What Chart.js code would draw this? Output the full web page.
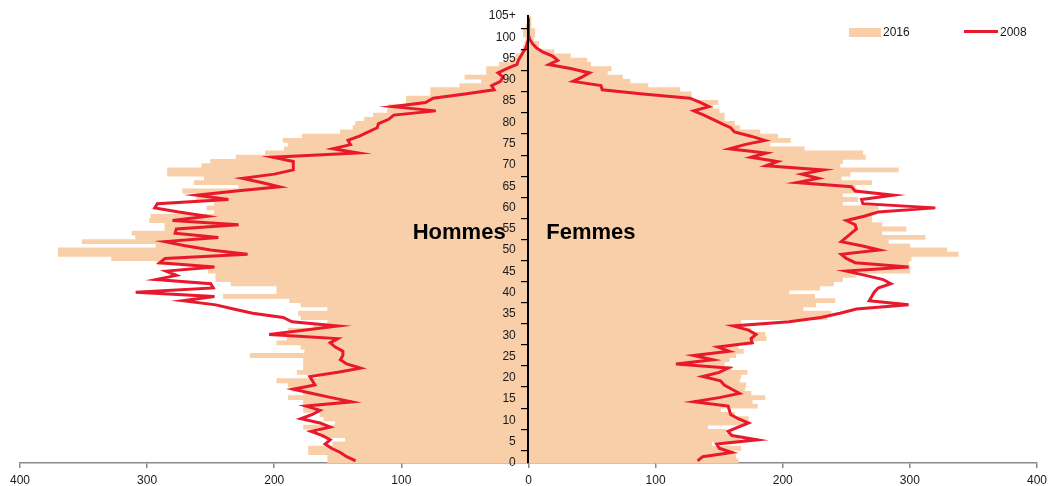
<!DOCTYPE html>
<html>
<head>
<meta charset="utf-8">
<script src="https://cdn.jsdelivr.net/npm/chart.js@4.4.0/dist/chart.umd.min.js"></script>
<style>
  html, body { margin: 0; padding: 0; background: #fff; overflow: hidden; }
  canvas { display: block; }
</style>
</head>
<body>
<canvas id="pyramide" width="1052" height="486"></canvas>
<script>
// ages 0 a 105+ (une classe par année)
const ages = Array.from({ length: 105 }, (_, i) => String(i)).concat(["105+"]);

// effectifs 2016 (barres)
const hommes2016 = [
  158, 158, 173, 173, 154, 144, 163, 164, 177, 152,
  161, 164, 177, 177, 177, 189, 177, 186, 189, 198,
  165, 182, 177, 177, 177, 219, 176, 179, 198, 190,
  190, 189, 169, 158, 179, 181, 158, 179, 188, 240,
  198, 198, 234, 246, 246, 252, 253, 292, 328, 370,
  370, 293, 351, 309, 312, 286, 286, 298, 297, 247,
  253, 247, 261, 261, 272, 228, 263, 255, 284, 284,
  257, 250, 230, 207, 192, 189, 193, 178, 148, 138,
  136, 129, 122, 111, 110, 96, 96, 77, 77, 54,
  37, 50, 33, 33, 23, 13, 10, 6, 4, 3,
  2, 4, 4, 2, 1, 1
];
const femmes2016 = [
  165, 163, 161, 167, 144, 166, 159, 155, 141, 172,
  173, 162, 151, 180, 176, 186, 175, 170, 171, 166,
  167, 172, 160, 154, 158, 163, 169, 165, 176, 187,
  186, 175, 168, 167, 235, 238, 216, 226, 241, 225,
  205, 229, 240, 247, 257, 300, 300, 299, 301, 338,
  329, 300, 283, 312, 278, 297, 278, 270, 270, 272,
  275, 247, 259, 247, 259, 257, 270, 246, 253, 291,
  245, 247, 265, 263, 217, 190, 206, 196, 182, 166,
  162, 154, 154, 150, 145, 149, 128, 128, 119, 94,
  80, 74, 62, 65, 49, 46, 33, 20, 8, 8,
  4, 5, 5, 2, 2, 2
];

// effectifs 2008 (courbe)
const hommes2008 = [
  136, 143, 148, 155, 160, 156, 162, 171, 156, 164,
  179, 170, 164, 175, 139, 155, 170, 185, 168, 170,
  172, 150, 132, 143, 148, 146, 146, 152, 156, 150,
  204, 177, 150, 186, 193, 217, 232, 246, 272, 247,
  309, 248, 250, 293, 277, 285, 247, 290, 286, 221,
  250, 270, 286, 244, 278, 277, 228, 280, 253, 275,
  294, 292, 236, 261, 230, 196, 210, 225, 200, 185,
  185, 185, 201, 134, 154, 140, 142, 133, 126, 119,
  118, 110, 106, 73, 107, 81, 75, 50, 27, 29,
  22, 20, 24, 17, 9, 8, 6, 4, 2, 1,
  0, 0, 0, 0, 0, 0
];
const femmes2008 = [
  133, 137, 160, 150, 148, 180, 160, 157, 165, 173,
  165, 159, 158, 157, 130, 150, 166, 160, 154, 151,
  137, 150, 157, 116, 145, 130, 158, 149, 176, 175,
  179, 173, 161, 205, 230, 245, 258, 299, 268, 270,
  272, 275, 285, 279, 265, 250, 299, 257, 250, 246,
  276, 262, 246, 250, 254, 258, 257, 250, 264, 275,
  320, 263, 262, 287, 257, 254, 211, 228, 215, 232,
  187, 196, 175, 187, 158, 170, 186, 175, 162, 159,
  152, 145, 138, 130, 142, 135, 127, 90, 58, 57,
  35, 42, 48, 34, 16, 23, 19, 11, 6, 3,
  1, 0, 0, 0, 0, 0
];

const xTicks = [-400, -300, -200, -100, 0, 100, 200, 300, 400];

const PEACH = "#F9CFAA";
const RED = "#E8192C";

Chart.defaults.font.family = '"Liberation Sans", Arial, Helvetica, sans-serif';
Chart.defaults.font.size = 12;
Chart.defaults.color = "#1a1a1a";

// une étiquette tous les 5 ans
const everyFive = (v, i) => (i % 5 === 0 ? ages[i] : null);

// textes Hommes / Femmes + légende dessinée à la main
const decor = {
  id: "decor",
  afterDatasetsDraw(chart) {
    const { ctx, scales } = chart;
    const yMid = scales.y.getPixelForValue(54);
    ctx.save();
    ctx.font = 'bold 22px "Liberation Sans", Arial, sans-serif';
    ctx.fillStyle = "#000";
    ctx.textBaseline = "middle";
    ctx.textAlign = "right";
    ctx.fillText("Hommes", scales.x.getPixelForValue(-18), yMid);
    ctx.textAlign = "left";
    ctx.fillText("Femmes", scales.x.getPixelForValue(14), yMid);
    ctx.restore();
  },
  afterDraw(chart) {
    const ctx = chart.ctx;
    ctx.save();
    ctx.font = '12px "Liberation Sans", Arial, sans-serif';
    ctx.fillStyle = PEACH;
    ctx.fillRect(849, 28, 32, 9);
    ctx.strokeStyle = RED;
    ctx.lineWidth = 3;
    ctx.beginPath();
    ctx.moveTo(964, 31.5);
    ctx.lineTo(998, 31.5);
    ctx.stroke();
    ctx.fillStyle = "#1a1a1a";
    ctx.textBaseline = "middle";
    ctx.fillText("2016", 883, 33);
    ctx.fillText("2008", 1000, 33);
    ctx.restore();
  },
};

const ctx = document.getElementById("pyramide").getContext("2d");
new Chart(ctx, {
  data: {
    labels: ages,
    datasets: [
      {
        type: "line",
        label: "2008",
        data: hommes2008.map((v) => -v),
        borderColor: RED,
        borderWidth: 3,
        pointRadius: 0,
        tension: 0,
        order: 0,
      },
      {
        type: "line",
        label: "2008 F",
        data: femmes2008,
        borderColor: RED,
        borderWidth: 3,
        pointRadius: 0,
        tension: 0,
        order: 0,
      },
      {
        type: "bar",
        label: "2016",
        data: hommes2016.map((v) => -v),
        backgroundColor: PEACH,
        barPercentage: 1,
        categoryPercentage: 1,
        grouped: false,
        order: 1,
      },
      {
        type: "bar",
        label: "2016 F",
        data: femmes2016,
        backgroundColor: PEACH,
        barPercentage: 1,
        categoryPercentage: 1,
        grouped: false,
        order: 1,
      },
    ],
  },
  options: {
    indexAxis: "y",
    responsive: false,
    animation: false,
    layout: { padding: { left: 20, right: 11, top: 16, bottom: 0 } },
    plugins: { legend: { display: false }, tooltip: { enabled: false } },
    scales: {
      x: {
        type: "linear",
        min: -400,
        max: 400,
        afterBuildTicks: (axis) => {
          axis.ticks = xTicks.map((v) => ({ value: v }));
        },
        // hauteur fixe pour caler l'axe en bas
        afterFit: (axis) => {
          axis.height = 23;
        },
        ticks: { callback: (v) => Math.abs(v), padding: 5 },
        grid: { drawOnChartArea: false, tickLength: 5, color: "#8a8a8a", lineWidth: 1.5 },
        border: { color: "#8a8a8a", width: 1.5 },
      },
      // axe central : trait + graduations
      y: {
        type: "category",
        reverse: true,
        position: { x: 0 },
        ticks: { autoSkip: false, color: "rgba(0,0,0,0)", callback: everyFive, z: 2 },
        grid: { drawOnChartArea: false, tickLength: 6, color: "#000", lineWidth: 1.2, z: 2 },
        border: { color: "#000", width: 2, z: 2 },
      },
      // étiquettes d'âge, un peu à gauche de l'axe
      yLab: {
        type: "category",
        axis: "y",
        reverse: true,
        position: { x: -10 },
        ticks: { autoSkip: false, callback: everyFive, z: 2 },
        grid: { display: false },
        border: { display: false },
      },
    },
  },
  plugins: [decor],
});
</script>
</body>
</html>
